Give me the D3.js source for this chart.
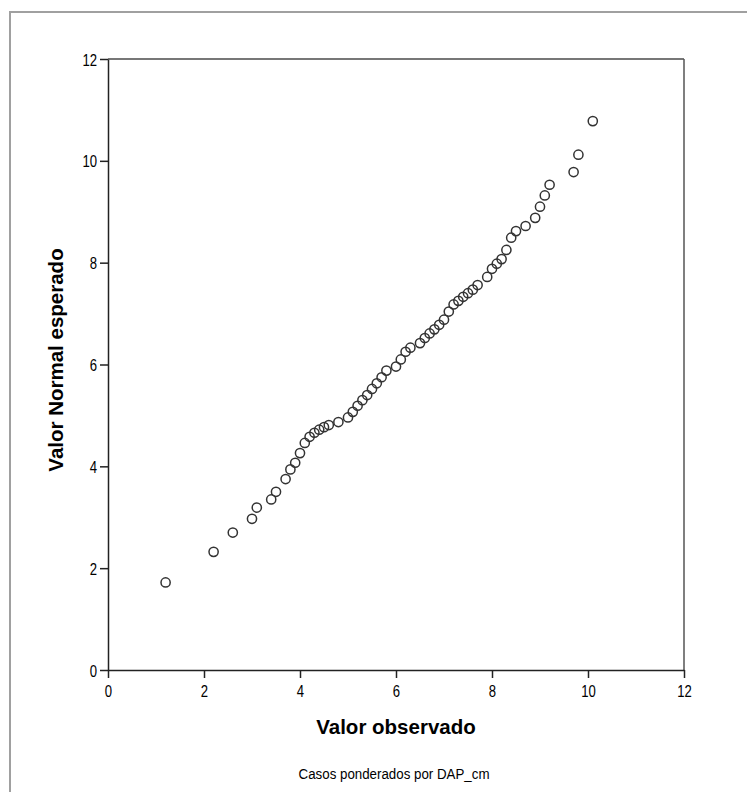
<!DOCTYPE html>
<html lang="es">
<head>
<meta charset="UTF-8">
<title>Q-Q normal</title>
<script src="https://d3js.org/d3.v7.min.js"></script>
<style>
  body { margin: 0; background: #fff; }
  text { font-family: "Liberation Sans", Arial, sans-serif; fill: #000; }
</style>
</head>
<body>
<svg width="747" height="792"></svg>
<script>
// valores observados (DAP) y valor normal esperado
var observado = [1.2, 2.2, 2.6, 3.0, 3.1, 3.4, 3.5, 3.7, 3.8, 3.9, 4.0, 4.1, 4.2, 4.3, 4.4, 4.5, 4.6, 4.8, 5.0, 5.1,
                 5.2, 5.3, 5.4, 5.5, 5.6, 5.7, 5.8, 6.0, 6.1, 6.2, 6.3, 6.5, 6.6, 6.7, 6.8, 6.9, 7.0, 7.1, 7.2, 7.3,
                 7.4, 7.5, 7.6, 7.7, 7.9, 8.0, 8.1, 8.2, 8.3, 8.4, 8.5, 8.7, 8.9, 9.0, 9.1, 9.2, 9.7, 9.8, 10.1];
var esperado  = [1.72, 2.32, 2.70, 2.97, 3.19, 3.35, 3.50, 3.75, 3.94, 4.07, 4.26, 4.46, 4.58, 4.66, 4.72, 4.77, 4.81, 4.87, 4.96, 5.07,
                 5.19, 5.30, 5.40, 5.52, 5.63, 5.75, 5.88, 5.96, 6.10, 6.25, 6.33, 6.42, 6.52, 6.61, 6.69, 6.78, 6.88, 7.04, 7.18, 7.25,
                 7.33, 7.40, 7.47, 7.56, 7.72, 7.88, 7.98, 8.07, 8.25, 8.49, 8.62, 8.72, 8.88, 9.10, 9.32, 9.53, 9.78, 10.12, 10.78];
var ticks = [0, 2, 4, 6, 8, 10, 12];

var svg = d3.select('svg');

// marco exterior
svg.append('path')
    .attr('d', 'M10,792 L10,12 L747,12')
    .attr('fill', 'none')
    .attr('stroke', '#a0a0a0')
    .attr('stroke-width', 2);

var x = d3.scaleLinear().domain([0, 12]).range([108, 684]);
var y = d3.scaleLinear().domain([0, 12]).range([670, 59]);

// borde del area de trazado
svg.append('line').attr('x1', x(0)).attr('x2', x(12)).attr('y1', y(12)).attr('y2', y(12))
    .attr('stroke', '#777').attr('stroke-width', 2);
svg.append('line').attr('x1', x(12)).attr('x2', x(12)).attr('y1', y(12)).attr('y2', y(0))
    .attr('stroke', '#555').attr('stroke-width', 1.5);

// ejes
var gx = svg.append('g').attr('transform', 'translate(0,' + y(0) + ')')
    .call(d3.axisBottom(x).tickValues(ticks).tickSize(8).tickSizeOuter(0));
var gy = svg.append('g').attr('transform', 'translate(' + x(0) + ',0)')
    .call(d3.axisLeft(y).tickValues(ticks).tickSize(8).tickSizeOuter(0));

[gx, gy].forEach(function (g) {
    g.select('.domain').attr('stroke', '#222').attr('stroke-width', 1.5);
    g.selectAll('.tick line').attr('stroke', '#222').attr('stroke-width', 1.5);
    g.selectAll('.tick text').attr('font-size', 16).attr('fill', '#000')
        .style('font-family', '"Liberation Sans", Arial, sans-serif');
});
// letra estrecha, como en el original
gx.selectAll('.tick text').attr('y', 0).attr('dy', 0)
    .attr('transform', 'translate(0,27) scale(0.82,1)');
gy.selectAll('.tick text').attr('x', 0).attr('dy', 0)
    .attr('transform', 'translate(-11,6) scale(0.82,1)');

// puntos
svg.append('g')
    .selectAll('circle')
    .data(observado)
    .enter()
    .append('circle')
    .attr('cx', function (d) { return x(d); })
    .attr('cy', function (d, i) { return y(esperado[i]); })
    .attr('r', 4.6)
    .attr('fill', 'none')
    .attr('stroke', '#333')
    .attr('stroke-width', 1.5);

// titulos
svg.append('text')
    .attr('x', 396).attr('y', 734)
    .attr('text-anchor', 'middle')
    .attr('font-size', 20.5).attr('font-weight', 'bold')
    .text('Valor observado');

svg.append('text')
    .attr('transform', 'translate(63,360) rotate(-90)')
    .attr('text-anchor', 'middle')
    .attr('font-size', 20.5).attr('font-weight', 'bold')
    .text('Valor Normal esperado');

svg.append('text')
    .attr('transform', 'translate(394,779) scale(0.86,1)')
    .attr('text-anchor', 'middle')
    .attr('font-size', 15.5)
    .text('Casos ponderados por DAP_cm');
</script>
</body>
</html>
